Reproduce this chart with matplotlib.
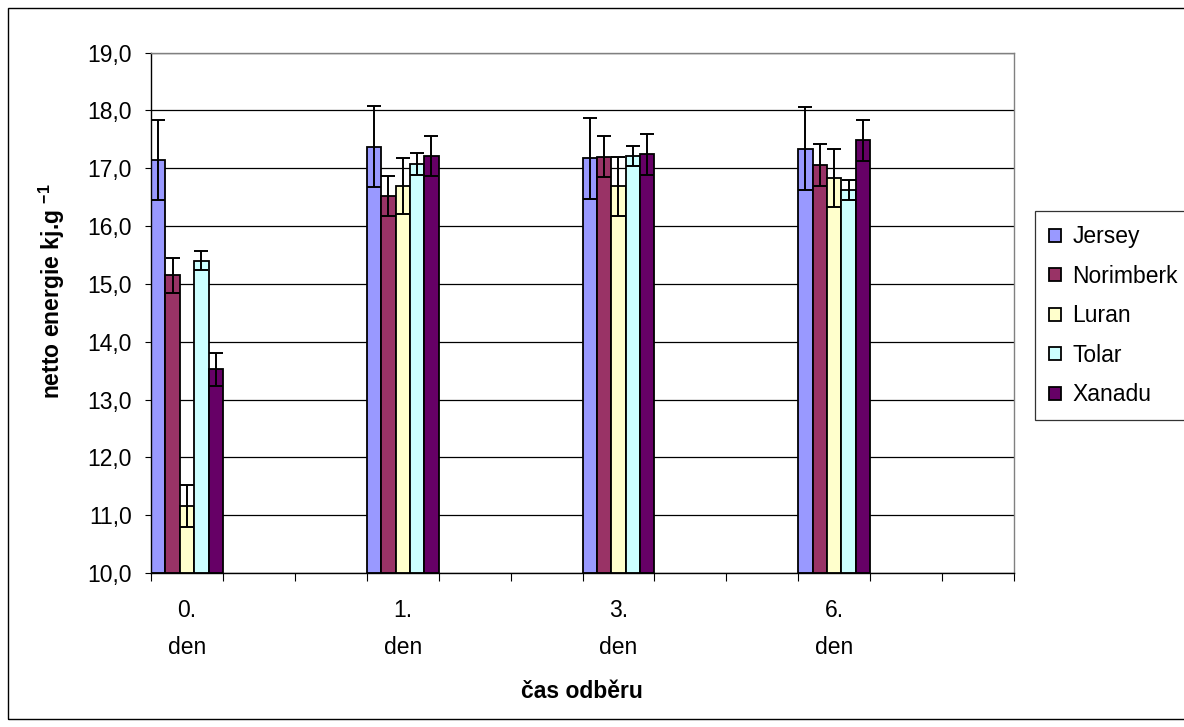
import numpy as np
import matplotlib
matplotlib.use("Agg")
import matplotlib.pyplot as plt
from matplotlib.patches import Rectangle

plt.rcParams['font.family'] = ['Liberation Sans', 'DejaVu Sans']
plt.rcParams['mathtext.fontset'] = 'custom'
plt.rcParams['mathtext.rm'] = 'Liberation Sans'
plt.rcParams['mathtext.bf'] = 'Liberation Sans:bold'

days = ["0.\nden", "1.\nden", "3.\nden", "6.\nden"]
varieties = ["Jersey", "Norimberk", "Luran", "Tolar", "Xanadu"]
colors = ["#9999FF", "#993366", "#FFFFCC", "#CCFFFF", "#660066"]

jersey = [17.14, 17.37, 17.17, 17.34]
norimberk = [15.15, 16.52, 17.20, 17.06]
luran = [11.16, 16.69, 16.69, 16.83]
tolar = [15.40, 17.08, 17.21, 16.62]
xanadu = [13.52, 17.21, 17.24, 17.48]

jersey_err = [0.69, 0.70, 0.70, 0.71]
norimberk_err = [0.30, 0.34, 0.35, 0.36]
luran_err = [0.36, 0.49, 0.51, 0.51]
tolar_err = [0.16, 0.19, 0.17, 0.17]
xanadu_err = [0.28, 0.35, 0.35, 0.36]

values = [jersey, norimberk, luran, tolar, xanadu]
errors = [jersey_err, norimberk_err, luran_err, tolar_err, xanadu_err]

FS = 16.5
W, H = 1184, 727
fig = plt.figure(figsize=(W / 100, H / 100), dpi=100)
ax = fig.add_axes([151 / W, 1 - 573 / H, 863 / W, 520.5 / H])

# each day sits in one slot, with two empty slots after it
pos = np.arange(len(days)) * 3
bw = 0.2
for i, (name, vals, errs) in enumerate(zip(varieties, values, errors)):
    x = pos + (i - 2) * bw
    ax.bar(x, np.array(vals) - 10, bottom=10, width=bw, color=colors[i],
           edgecolor='black', linewidth=1.3, label=name, zorder=2)
    ax.errorbar(x, vals, yerr=errs, fmt='none', ecolor='black',
                elinewidth=1.4, capsize=5, capthick=1.4, zorder=3)

ax.set_xlim(-0.5, 11.5)
ax.set_ylim(10, 19)
yt = np.arange(10, 20)
ax.set_yticks(yt)
ax.set_yticklabels([f"{v:.1f}".replace('.', ',') for v in yt], fontsize=FS)
ax.yaxis.grid(True, color='black', linewidth=0.9, zorder=0)
ax.set_axisbelow(True)
ax.tick_params(axis='y', length=4, width=0.8, pad=10)

ax.set_xticks(pos)
ax.set_xticklabels(days, fontsize=FS, linespacing=1.75)
ax.set_xticks(np.arange(-0.5, 12, 1), minor=True)
ax.tick_params(axis='x', which='major', length=0, pad=19)
ax.tick_params(axis='x', which='minor', length=6, width=0.8)

for s in ['left', 'bottom']:
    ax.spines[s].set_color('black')
    ax.spines[s].set_linewidth(1.0)
for s in ['top', 'right']:
    ax.spines[s].set_color('#808080')
    ax.spines[s].set_linewidth(1.0)

fig.text(52 / W, 1 - 291 / H, r"netto energie kj.g $^{\mathbf{-1}}$",
         rotation=90, ha='center', va='center', fontsize=FS, fontweight='bold')
fig.text(582 / W, 1 - 692 / H, "čas odběru", ha='center', va='center',
         fontsize=FS, fontweight='bold')

leg = fig.legend(loc='upper left', bbox_to_anchor=(1035 / W, 1 - 211 / H),
                 fontsize=FS, frameon=True, fancybox=False, shadow=False,
                 handlelength=0.5, handleheight=0.5, handletextpad=0.5,
                 labelspacing=0.72, borderpad=0.62, borderaxespad=0)
leg.get_frame().set_edgecolor('black')
leg.get_frame().set_linewidth(0.9)

fig.patches.append(Rectangle((8 / W, 8 / H), 1.2, 1 - 16 / H, transform=fig.transFigure,
                             fill=False, edgecolor='black', linewidth=1.0))

fig.savefig("out.png", dpi=100)
